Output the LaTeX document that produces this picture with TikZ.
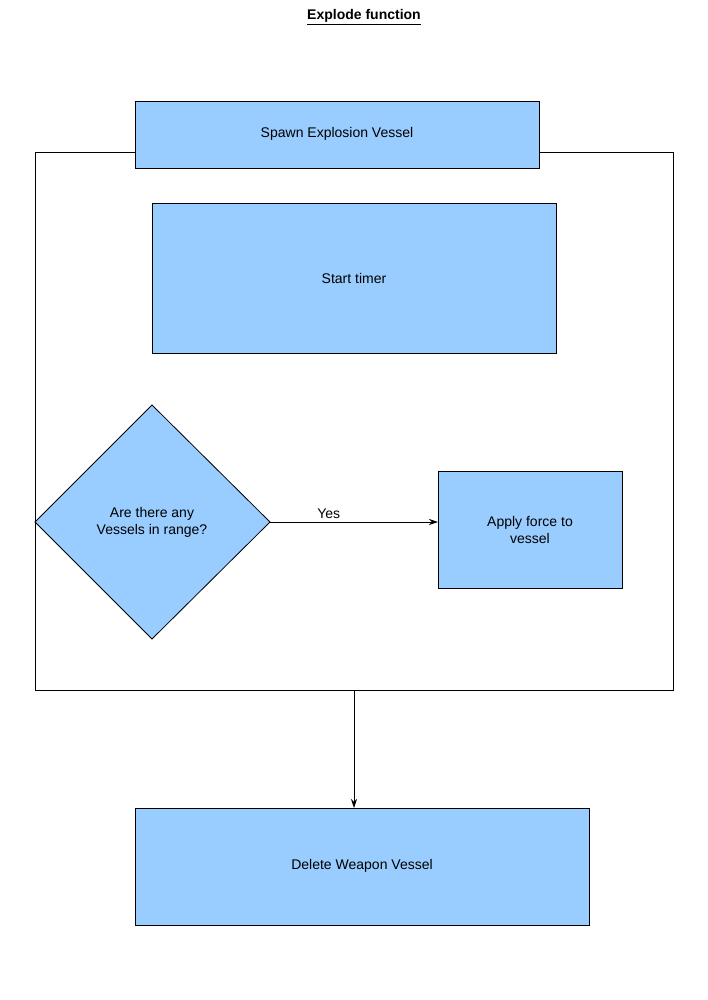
\documentclass[tikz,border=0pt]{standalone}
\usepackage{fontspec}
\setmainfont{Liberation Sans}
\usetikzlibrary{shapes.geometric,arrows.meta}
\definecolor{boxblue}{HTML}{99CCFF}
\begin{document}
\begin{tikzpicture}[x=1pt,y=-1pt,
  blk/.style={draw=black,fill=boxblue,line width=0.8pt},
  txt/.style={font=\fontsize{14}{17}\selectfont,align=center},
  arr/.style={-{Stealth[length=9pt,width=6pt]},line width=0.8pt}]
\useasboundingbox (0,0) rectangle (707,1000);
\node[font=\fontsize{14}{17}\selectfont\bfseries] (title) at (364,17) {\underline{Explode function}};
\draw[line width=0.8pt] (35,152) rectangle (673,690);
\coordinate (framebot) at (354,690);
\draw[blk] (135,101) rectangle (539,168);
\node[txt] (spawn) at (337,134) {Spawn Explosion Vessel};
\draw[blk] (152,203) rectangle (556,353);
\node[txt] (timer) at (354,278) {Start timer};
\draw[blk] (152,405) -- (270,522) -- (152,639) -- (35,522) -- cycle;
\node[txt] (dia) at (152,522) {Are there any\\Vessels in range?};
\coordinate (diaR) at (270,522);
\draw[blk] (438,471) rectangle (622,588);
\node[txt] (apply) at (530,530) {Apply force to\\vessel};
\coordinate (applyL) at (438,522);
\draw[arr] (diaR) -- node[txt,above,pos=0.35] {Yes} (applyL);
\draw[blk] (135,808) rectangle (589,925);
\node[txt] (del) at (362,866) {Delete Weapon Vessel};
\coordinate (delT) at (354,808);
\draw[arr] (framebot) -- (delT);
\end{tikzpicture}
\end{document}
